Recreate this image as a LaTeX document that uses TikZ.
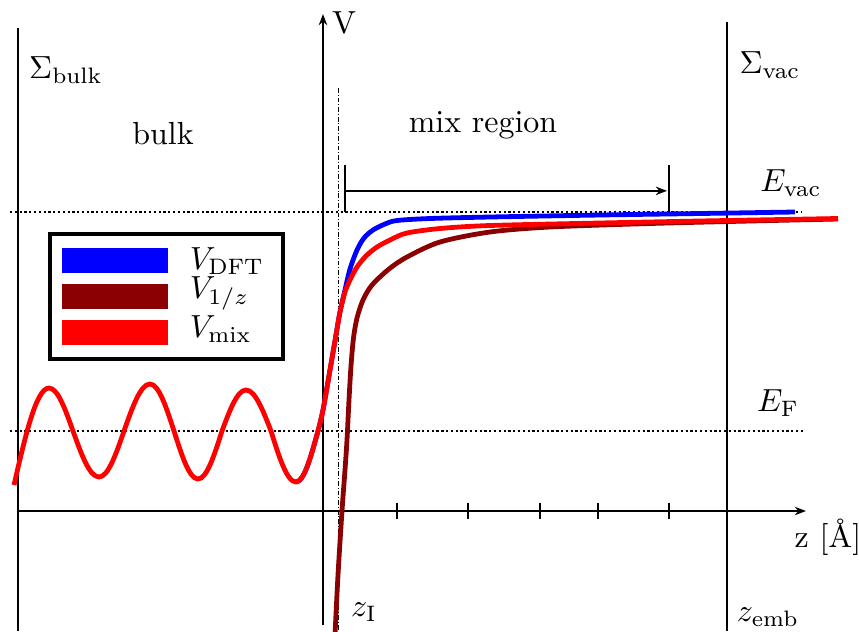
\documentclass[tikz,border=0pt]{standalone}
\usepackage{amsmath,amssymb}
\usepackage{xcolor}
\usepackage{tikz}
\usetikzlibrary{arrows.meta,positioning,calc}
\definecolor{vdft}{RGB}{0,0,255}
\definecolor{vinv}{RGB}{139,0,0}
\definecolor{vmix}{RGB}{255,0,0}
\tikzset{
  axis/.style={semithick, -{Stealth[length=3.5pt]}},
  wall/.style={semithick},
  level/.style={line width=0.4pt, dash pattern=on 0.7pt off 0.8pt},
  pot/.style={line width=1.5pt, draw=#1, line join=round},
  swatch/.style={rectangle, fill=#1, draw=none,
                 minimum width=1.166cm, minimum height=0.275cm},
  lbl/.style={inner sep=1pt},
}

\begin{document}
\begin{tikzpicture}[x=0.011cm, y=-0.011cm]
  \useasboundingbox (0,0) rectangle (859,631);
  % walls and axes
  \coordinate (bulkTop) at (18,28);   \coordinate (bulkBot) at (18,631);
  \coordinate (vacTop)  at (727,22);  \coordinate (vacBot)  at (727,631);
  \coordinate (vBot)    at (323,625); \coordinate (vTip)    at (323,14);
  \coordinate (zStart)  at (18,511);  \coordinate (zTip)    at (806,511);
  \coordinate (iTop)    at (338,88);  \coordinate (iBot)    at (338,631);
  \draw[wall] (bulkTop) -- (bulkBot);
  \draw[wall] (vacTop) -- (vacBot);
  \draw[axis] (vBot) -- (vTip);
  \draw[axis] (zStart) -- (zTip);
  \draw[line width=0.3pt, dash pattern=on 1.5pt off 0.6pt on 0.3pt off 0.6pt] (iTop) -- (iBot);
  \foreach \x in {397,468,540,598,669}
    \draw[semithick] (\x,503) -- (\x,519);
  % energy levels
  \coordinate (vacL) at (10,212);  \coordinate (vacR) at (802,212);
  \coordinate (fL)   at (10,431);  \coordinate (fR)   at (803,431);
  \draw[level] (vacL) -- (vacR);
  \draw[level] (fL) -- (fR);
  % mix region bar
  \coordinate (mixA) at (345,165); \coordinate (mixAb) at (345,212);
  \coordinate (mixB) at (669,165); \coordinate (mixBb) at (669,212);
  \draw[semithick] (mixA) -- (mixAb);
  \draw[semithick] (mixB) -- (mixBb);
  \draw[semithick, -{Stealth[length=3.5pt]}] ($(mixA)!0.55!(mixAb)$) -- ($(mixB)!0.55!(mixBb)+(-2,0)$);
  % potentials
  \draw[pot=vdft] (296,482) cos (318,431) -- plot[smooth] coordinates {
    (318,431) (323,410) (330,370) (336,335) (340,312) (345,290) (350,269)
    (357,250) (364,238) (373,230) (385,224) (397,220.5) (430,218.5)
    (490,217) (600,215) (700,213.5) (795,212)};
  \draw[pot=vinv] plot[smooth] coordinates {
    (335,635) (338,575) (342,511) (345,470) (347,440) (349,400) (351,366)
    (353.5,338) (357,318) (363,300) (372,285) (389,269) (407,257) (440,242)
    (490,232) (550,227) (650,223.5) (750,221) (838,219)};
  \draw[pot=vmix] (14,485) sin (49,388) cos (73,431) sin (99,477)
    cos (124,431) sin (150,384) cos (174,431) sin (198,479)
    cos (222,431) sin (246,390) cos (271,431) sin (296,482)
    cos (318,431) -- plot[smooth] coordinates {
    (318,431) (323,410) (330,370) (336,335) (340,312) (345,292) (350,280)
    (357,267) (366,256) (377,247) (392,239) (407,233) (440,228.5)
    (490,225.5) (600,223) (700,221) (838,218.5)};
  % legend
  \node[draw, line width=1pt, minimum width=2.563cm, minimum height=1.375cm]
    (legend) at (166.5,296.5) {};
  \node[swatch=vdft] (swDft) at (115,260.5) {};
  \node[swatch=vinv] (swInv) at (115,296.5) {};
  \node[swatch=vmix] (swMix) at (115,332.5) {};
  \node[lbl, anchor=west] (lDft) at (186,261) {$V_{\mathrm{DFT}}$};
  \node[lbl, anchor=west] (lInv) at (186,293) {$V_{1/z}$};
  \node[lbl, anchor=west] (lMix) at (186,329) {$V_{\mathrm{mix}}$};
  % labels
  \node[lbl] (sBulk) at (66,70)   {$\Sigma_{\mathrm{bulk}}$};
  \node[lbl] (sVac)  at (770,65)  {$\Sigma_{\mathrm{vac}}$};
  \node[lbl] (bulk)  at (163,134) {bulk};
  \node[lbl] (mix)   at (483,125) {mix region};
  \node[lbl] (vLab)  at (344,23)  {V};
  \node[lbl] (eVac)  at (791,183) {$E_{\mathrm{vac}}$};
  \node[lbl] (eF)    at (778,403) {$E_{\mathrm{F}}$};
  \node[lbl] (zLab)  at (828,537) {z [\AA]};
  \node[lbl] (zI)    at (364,612) {$z_{\mathrm{I}}$};
  \node[lbl] (zEmb)  at (768,617) {$z_{\mathrm{emb}}$};
\end{tikzpicture}
\end{document}
